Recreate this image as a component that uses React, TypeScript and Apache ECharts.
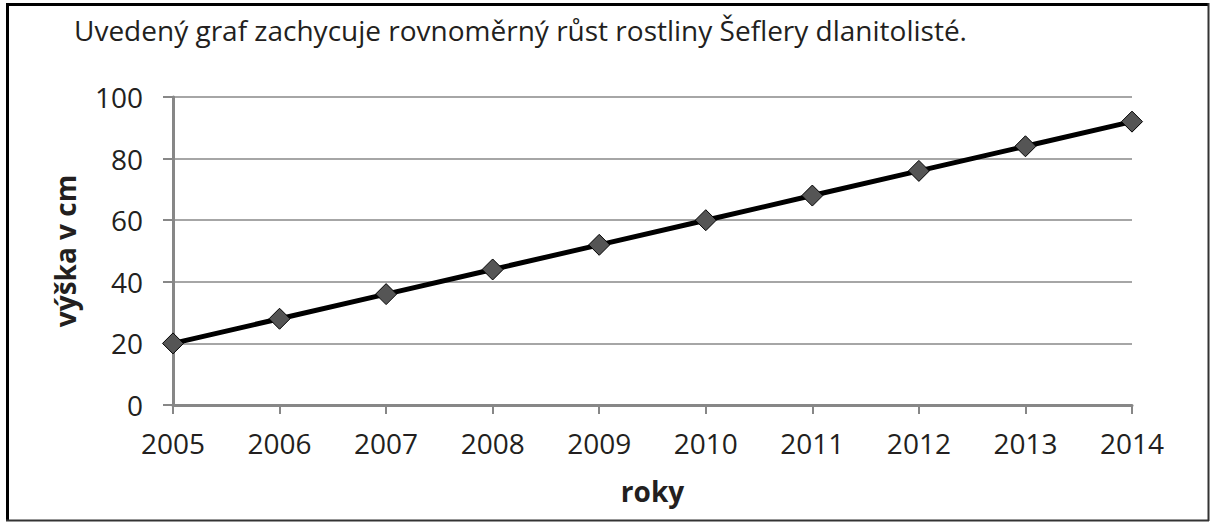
import React, { useEffect, useRef } from "react";
import * as echarts from "echarts";

const titleText = "Uvedený graf zachycuje rovnoměrný růst rostliny Šeflery dlanitolisté.";
const years = ["2005", "2006", "2007", "2008", "2009", "2010", "2011", "2012", "2013", "2014"];
const heights = [20, 28, 36, 44, 52, 60, 68, 76, 84, 92];
const yAxisName = "výška v cm";
const xAxisName = "roky";

const FONT = "'Open Sans', 'Noto Sans', sans-serif";

export default function App() {
  const ref = useRef<HTMLDivElement>(null);
  useEffect(() => {
    if (!ref.current) return;
    const chart = echarts.init(ref.current, null, { renderer: "svg" });
    chart.setOption({
      animation: false,
      backgroundColor: "#ffffff",
      textStyle: { fontFamily: FONT },
      grid: { left: 173, right: 78, top: 97, bottom: 117, containLabel: false },
      graphic: [
        { type: "line", shape: { x1: 7.5, y1: 3, x2: 7.5, y2: 521 }, style: { stroke: "#000", lineWidth: 3 } },
        { type: "line", shape: { x1: 6, y1: 4.5, x2: 1209, y2: 4.5 }, style: { stroke: "#000", lineWidth: 3 } },
        { type: "line", shape: { x1: 1208.5, y1: 3, x2: 1208.5, y2: 521 }, style: { stroke: "#333", lineWidth: 2 } },
        { type: "line", shape: { x1: 6, y1: 520.5, x2: 1209, y2: 520.5 }, style: { stroke: "#333", lineWidth: 2 } },
        {
          type: "text",
          left: 74,
          top: 16,
          style: { text: titleText, font: `28px ${FONT}`, fill: "#231f20" },
        },
      ],
      xAxis: {
        type: "category",
        data: years,
        boundaryGap: false,
        name: xAxisName,
        nameLocation: "middle",
        nameGap: 72,
        nameTextStyle: { fontSize: 28, fontWeight: "bold", color: "#231f20", fontFamily: FONT },
        axisLine: { lineStyle: { color: "#878787", width: 3 } },
        axisTick: { show: true, length: 9, lineStyle: { color: "#878787", width: 2 } },
        axisLabel: { fontSize: 28, color: "#231f20", margin: 24, fontFamily: FONT },
        splitLine: { show: false },
      },
      yAxis: {
        type: "value",
        min: 0,
        max: 100,
        interval: 20,
        name: yAxisName,
        nameLocation: "middle",
        nameGap: 94,
        nameRotate: 90,
        nameTextStyle: { fontSize: 28, fontWeight: "bold", color: "#231f20", fontFamily: FONT },
        axisLine: { show: true, lineStyle: { color: "#878787", width: 3 } },
        axisTick: { show: true, length: 10, lineStyle: { color: "#878787", width: 2 } },
        axisLabel: { fontSize: 28, color: "#231f20", margin: 30, fontFamily: FONT },
        splitLine: { lineStyle: { color: "#a6a6a6", width: 2 } },
      },
      series: [
        {
          type: "line",
          data: heights,
          symbol: "diamond",
          symbolSize: [21, 21],
          lineStyle: { color: "#000", width: 5 },
          itemStyle: { color: "#555555", borderColor: "#000", borderWidth: 1 },
        },
      ],
    });
    return () => chart.dispose();
  }, []);
  return (
    <div
      ref={ref}
      style={{ position: "absolute", left: 0, top: 0, width: 1210, height: 522 }}
    />
  );
}
